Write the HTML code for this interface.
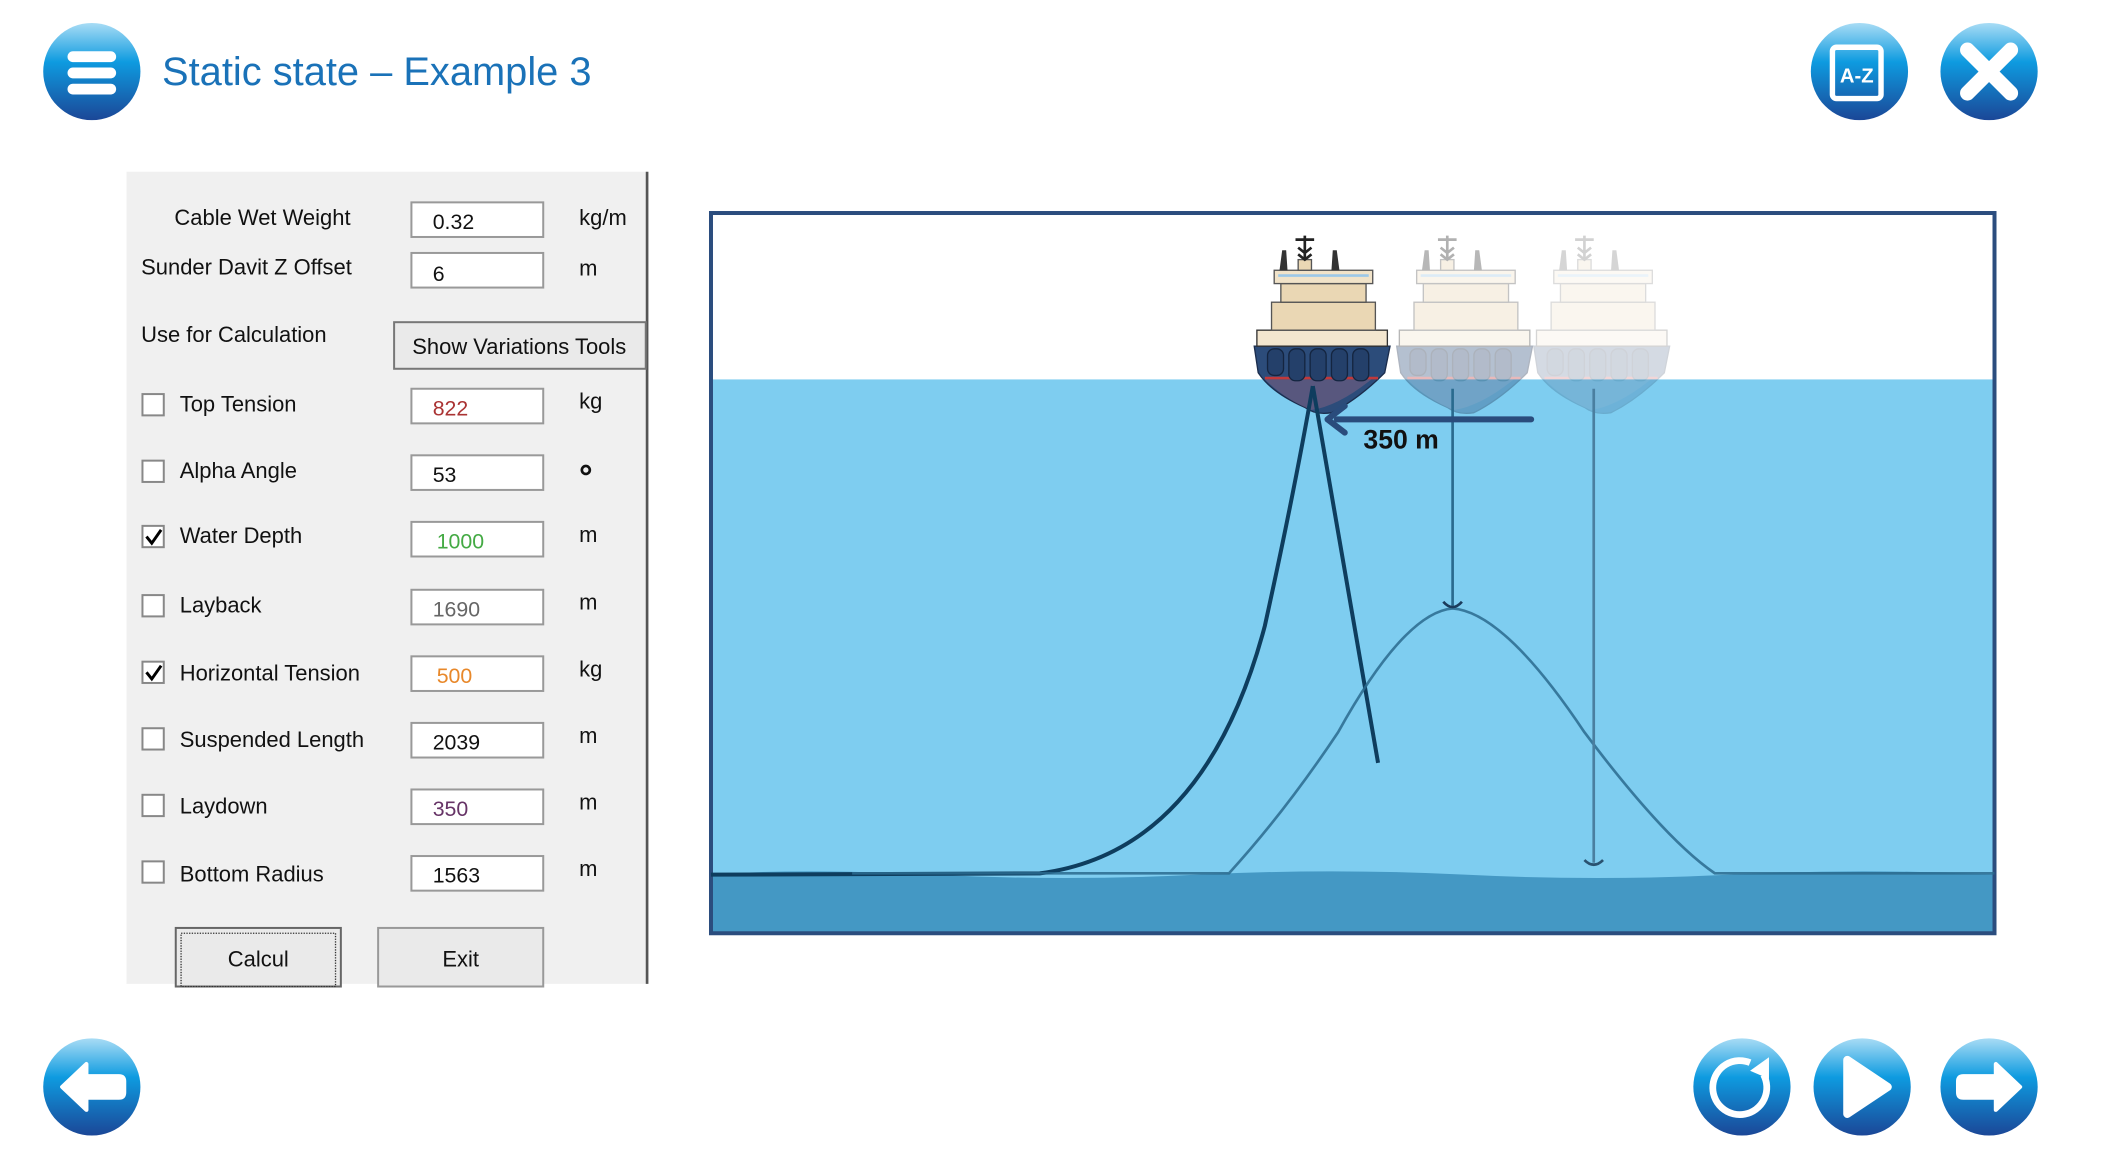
<!DOCTYPE html>
<html><head><meta charset="utf-8"><style>
html,body{margin:0;padding:0;background:#fff;width:2116px;height:1172px;overflow:hidden}
svg{display:block}
</style></head><body>
<svg width="2116" height="1172" viewBox="0 0 1567 868" preserveAspectRatio="none" xmlns="http://www.w3.org/2000/svg" font-family="Liberation Sans, sans-serif">
<defs>
<linearGradient id="bg" x1="0" y1="0" x2="0" y2="1">
<stop offset="0" stop-color="#a8dcf5"/><stop offset="0.4" stop-color="#0e9be0"/><stop offset="1" stop-color="#1b4797"/>
</linearGradient>
</defs>
<circle cx="68" cy="53" r="36" fill="url(#bg)"/>
<rect x="50" y="38" width="36" height="8" rx="4" fill="#fff"/>
<rect x="50" y="50" width="36" height="8" rx="4" fill="#fff"/>
<rect x="50" y="62" width="36" height="8" rx="4" fill="#fff"/>
<text x="120" y="63" font-size="29.5" fill="#1a72b8" font-family="Liberation Sans, DejaVu Sans, sans-serif">Static state – Example 3</text>

<circle cx="1377" cy="53" r="36" fill="url(#bg)"/>
<rect x="1357" y="35" width="36" height="38" rx="3" fill="none" stroke="#fff" stroke-width="4"/>
<text x="1375" y="61" font-size="15" font-weight="bold" fill="#fff" text-anchor="middle">A-Z</text>
<circle cx="1473" cy="53" r="36" fill="url(#bg)"/>
<path d="M1457 37 L1489 69 M1489 37 L1457 69" stroke="#fff" stroke-width="11" stroke-linecap="round"/>

<circle cx="68" cy="805" r="36" fill="url(#bg)"/>
<path d="M46 805 L64 788 L64 797 L88 797 Q92 797 92 801 L92 809 Q92 813 88 813 L64 813 L64 822 Z" fill="#fff" stroke="#fff" stroke-width="3" stroke-linejoin="round"/>
<circle cx="1290" cy="805" r="36" fill="url(#bg)"/>
<path d="M1306 796 A20 20 0 1 1 1296 787" fill="none" stroke="#fff" stroke-width="5"/>
<path d="M1310 783 L1310 799 L1296 793 Z" fill="#fff"/>
<circle cx="1379" cy="805" r="36" fill="url(#bg)"/>
<path d="M1368 785 L1398 805 L1368 825 Z" fill="#fff" stroke="#fff" stroke-width="6" stroke-linejoin="round"/>
<circle cx="1473" cy="805" r="36" fill="url(#bg)"/>
<path d="M1496 805 L1478 788 L1478 797 L1454 797 Q1450 797 1450 801 L1450 809 Q1450 813 1454 813 L1478 813 L1478 822 Z" fill="#fff" stroke="#fff" stroke-width="3" stroke-linejoin="round"/>

<g transform="scale(0.986)">
<rect x="95" y="129" width="391" height="610" fill="#f0f0f0"/>
<line x1="486" y1="129" x2="486" y2="739" stroke="#555" stroke-width="2"/>
<g font-size="16.5" fill="#111">
<text x="131" y="169">Cable Wet Weight</text>
<text x="106" y="206">Sunder Davit Z Offset</text>
<text x="106" y="257">Use for Calculation</text>
<text x="135" y="309">Top Tension</text>
<text x="135" y="359">Alpha Angle</text>
<text x="135" y="408">Water Depth</text>
<text x="135" y="460">Layback</text>
<text x="135" y="511">Horizontal Tension</text>
<text x="135" y="561">Suspended Length</text>
<text x="135" y="611">Laydown</text>
<text x="135" y="662">Bottom Radius</text>
<text x="435" y="169">kg/m</text>
<text x="435" y="207">m</text>
<text x="435" y="307">kg</text>
<text x="435" y="407">m</text>
<text x="435" y="458">m</text>
<text x="435" y="508">kg</text>
<text x="435" y="558">m</text>
<text x="435" y="608">m</text>
<text x="435" y="658">m</text>
</g>
<circle cx="440" cy="353" r="3" fill="none" stroke="#111" stroke-width="2"/>
<g fill="#fff" stroke="#999" stroke-width="1.5">
<rect x="309" y="152" width="99" height="26"/>
<rect x="309" y="190" width="99" height="26"/>
<rect x="309" y="292" width="99" height="26"/>
<rect x="309" y="342" width="99" height="26"/>
<rect x="309" y="392" width="99" height="26"/>
<rect x="309" y="443" width="99" height="26"/>
<rect x="309" y="493" width="99" height="26"/>
<rect x="309" y="543" width="99" height="26"/>
<rect x="309" y="593" width="99" height="26"/>
<rect x="309" y="643" width="99" height="26"/>
</g>
<g font-size="16" font-family="Liberation Sans, DejaVu Sans, sans-serif">
<text x="325" y="172" fill="#111">0.32</text>
<text x="325" y="211" fill="#111">6</text>
<text x="325" y="312" fill="#a33">822</text>
<text x="325" y="362" fill="#111">53</text>
<text x="328" y="412" fill="#4a4">1000</text>
<text x="325" y="463" fill="#666">1690</text>
<text x="328" y="513" fill="#e8882a">500</text>
<text x="325" y="563" fill="#111">2039</text>
<text x="325" y="613" fill="#636">350</text>
<text x="325" y="663" fill="#111">1563</text>
</g>
<g fill="#fff" stroke="#888" stroke-width="1.5">
<rect x="107" y="296" width="16" height="16"/>
<rect x="107" y="346" width="16" height="16"/>
<rect x="107" y="395" width="16" height="16"/>
<rect x="107" y="447" width="16" height="16"/>
<rect x="107" y="497" width="16" height="16"/>
<rect x="107" y="547" width="16" height="16"/>
<rect x="107" y="597" width="16" height="16"/>
<rect x="107" y="647" width="16" height="16"/>
</g>
<path d="M110 403 L114 408 L121 398" fill="none" stroke="#000" stroke-width="2.2"/>
<path d="M110 505 L114 510 L121 500" fill="none" stroke="#000" stroke-width="2.2"/>
<rect x="296" y="242" width="189" height="35" fill="#eaeaea" stroke="#777" stroke-width="1.5"/>
<text x="390" y="266" font-size="16.5" text-anchor="middle" fill="#111">Show Variations Tools</text>
<rect x="132" y="697" width="124" height="44" fill="#eaeaea" stroke="#666" stroke-width="1.5"/>
<rect x="136" y="701" width="116" height="40" fill="none" stroke="#333" stroke-width="1" stroke-dasharray="1,1"/>
<text x="194" y="726" font-size="16.5" text-anchor="middle" fill="#111">Calcul</text>
<rect x="284" y="697" width="124" height="44" fill="#eaeaea" stroke="#999" stroke-width="1.5"/>
<text x="346" y="726" font-size="16.5" text-anchor="middle" fill="#111">Exit</text>

<rect x="534" y="160" width="964" height="541" fill="#fff"/>
<rect x="534" y="285" width="964" height="416" fill="#7ecdf0"/>
<path d="M534 657 Q600 652 700 657 T900 657 T1100 657 T1300 657 T1498 657 L1498 701 L534 701 Z" fill="#4498c4"/>
<rect x="534" y="160" width="964" height="541" fill="none" stroke="#2b4d7e" stroke-width="3"/>

<g opacity="0.35"><g transform="translate(107,0)"><use href="#ship"/></g></g>
<g opacity="0.2"><g transform="translate(210,0)"><use href="#ship"/></g></g>
<g id="ship">
<path d="M942 260 L1044 260 L1040 280 Q1020 300 1000 310 Q988 312 980 306 Q955 295 945 280 Z" fill="#2c4c7a" stroke="#1b2d4d" stroke-width="1"/>
<path d="M950 285 Q965 300 985 308 Q1005 305 1030 285 Z" fill="#6b5c80" opacity="0.7"/>
<line x1="950" y1="284" x2="1035" y2="284" stroke="#c0393b" stroke-width="2"/>
<g fill="#24406a" stroke="#142540" stroke-width="1">
<rect x="952" y="262" width="12" height="20" rx="5"/>
<rect x="968" y="262" width="12" height="24" rx="5"/>
<rect x="984" y="262" width="12" height="24" rx="5"/>
<rect x="1000" y="262" width="12" height="24" rx="5"/>
<rect x="1016" y="262" width="12" height="24" rx="5"/>
</g>
<rect x="944" y="248" width="98" height="12" fill="#f3e6cf" stroke="#333" stroke-width="1"/>
<rect x="955" y="227" width="78" height="21" fill="#ead7b4" stroke="#555" stroke-width="1"/>
<rect x="962" y="213" width="64" height="14" fill="#ead7b4" stroke="#555" stroke-width="1"/>
<rect x="957" y="203" width="74" height="10" fill="#f1e3c9" stroke="#555" stroke-width="1"/>
<line x1="960" y1="207" x2="1028" y2="207" stroke="#9cc8e8" stroke-width="2"/>
<rect x="975" y="195" width="10" height="8" fill="#ead7b4" stroke="#555" stroke-width="1"/>
<path d="M980 195 L980 177 M973 180 L987 180 M975 186 L980 190 L985 186 M975 191 L980 195 L985 191" stroke="#222" stroke-width="2" fill="none"/>
<path d="M961 203 L963 188 L966 188 L967 203 Z M1000 203 L1001 188 L1004 188 L1006 203 Z" fill="#333"/>
</g>

<path d="M534 657 L781 656 Q905 640 950 470 Q972 370 986 290" fill="none" stroke="#0e3d5e" stroke-width="3"/>
<line x1="986" y1="290" x2="1035" y2="573" stroke="#0e3d5e" stroke-width="3"/>
<line x1="1091" y1="292" x2="1091" y2="455" stroke="#2a6a8e" stroke-width="2"/>
<path d="M640 656 L923 656 Q965 610 1005 550 Q1055 460 1091 457 Q1130 460 1190 550 Q1250 630 1288 656 L1498 656" fill="none" stroke="#2a6a8e" stroke-width="2" opacity="0.85"/>
<path d="M1084 452 Q1091 460 1098 452" fill="none" stroke="#1b3b5b" stroke-width="2"/>
<line x1="1197" y1="292" x2="1197" y2="648" stroke="#4a7fa0" stroke-width="2"/>
<path d="M1190 646 Q1197 653 1204 646" fill="none" stroke="#2a5270" stroke-width="2"/>
<line x1="1004" y1="315" x2="1150" y2="315" stroke="#2a4c7c" stroke-width="4.5" stroke-linecap="round"/>
<path d="M1010 305 L997 315 L1010 325" fill="none" stroke="#2a4c7c" stroke-width="4.5" stroke-linecap="round" stroke-linejoin="round"/>
<text x="1024" y="337" font-size="20" font-weight="bold" fill="#111">350 m</text>
</g>
</svg>
</body></html>
